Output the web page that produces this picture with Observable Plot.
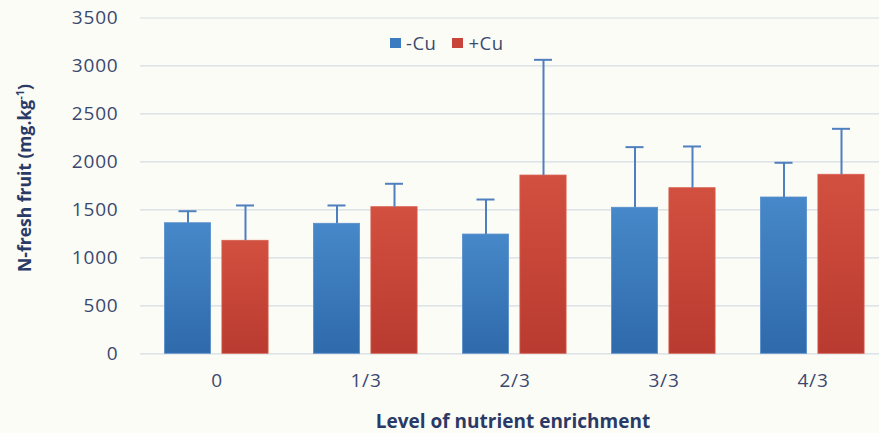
<!DOCTYPE html>
<html>
<head>
<meta charset="utf-8">
<script src="https://cdn.jsdelivr.net/npm/d3@7"></script>
<script src="https://cdn.jsdelivr.net/npm/@observablehq/plot@0.6"></script>
<style>
  html, body { margin: 0; padding: 0; background: #fcfcf6; overflow: hidden; }
  #wrap { position: relative; width: 879px; height: 433px; font-family: "Open Sans", sans-serif; }
  #ylab { position: absolute; left: 24px; top: 178px; transform: translate(-50%, -50%) rotate(-90deg);
          white-space: nowrap; font-weight: 700; font-size: 17.5px; color: #2a3a66; }
  #ylab sup { font-size: 11px; }
  #xlab { position: absolute; left: 513px; top: 421px; transform: translate(-50%, -50%);
          white-space: nowrap; font-weight: 700; font-size: 19px; color: #2a3a66; }
  #legend { position: absolute; left: 390px; top: 30px; font-size: 18.5px; color: #3b4a70; display: flex; align-items: center; letter-spacing: 0.5px; }
  #legend .sw { display: inline-block; width: 11px; height: 10px; margin-right: 5px; }
  #legend .item { display: flex; align-items: center; margin-right: 16px; }
  #chart svg g[aria-label$="tick label"] text { letter-spacing: 0.8px; }
</style>
</head>
<body>
<div id="wrap">
  <div id="chart"></div>
  <div id="ylab">N-fresh fruit (mg.kg<sup>-1</sup>)</div>
  <div id="xlab">Level of nutrient enrichment</div>
  <div id="legend"></div>
</div>
<script>
const levels = ["0", "1/3", "2/3", "3/3", "4/3"];
const series = ["-Cu", "+Cu"];
const minusCu = [1361, 1355, 1243, 1522, 1629];
const minusCuSD = [125, 191, 365, 632, 362];
const plusCu = [1178, 1528, 1858, 1726, 1866];
const plusCuSD = [368, 244, 1206, 435, 479];
const yTicks = [0, 500, 1000, 1500, 2000, 2500, 3000, 3500];
const colors = ["#3b7bc0", "#c9443a"];

const minusData = levels.map((l, i) => ({level: l, value: minusCu[i], top: minusCu[i] + minusCuSD[i]}));
const plusData = levels.map((l, i) => ({level: l, value: plusCu[i], top: plusCu[i] + plusCuSD[i]}));

const barInset = 51.4;
const capInset = 65.5;
const errColor = "#4f7fbf";

function gradientDefs() {
  const ns = "http://www.w3.org/2000/svg";
  const defs = document.createElementNS(ns, "defs");
  const specs = [["gBlue", "#4688c9", "#2f6aab"], ["gRed", "#d2503f", "#b93a30"]];
  for (const [id, c1, c2] of specs) {
    const g = document.createElementNS(ns, "linearGradient");
    g.setAttribute("id", id);
    g.setAttribute("x1", "0"); g.setAttribute("y1", "0");
    g.setAttribute("x2", "0"); g.setAttribute("y2", "1");
    [[0, c1], [1, c2]].forEach(([o, c]) => {
      const s = document.createElementNS(ns, "stop");
      s.setAttribute("offset", o);
      s.setAttribute("stop-color", c);
      g.appendChild(s);
    });
    defs.appendChild(g);
  }
  return defs;
}

const fillWith = id => (i, s, v, d, c, next) => {
  const g = next(i, s, v, d, c);
  g.querySelectorAll("rect").forEach(r => r.setAttribute("fill", `url(#${id})`));
  return g;
};

const chart = Plot.plot({
  width: 879,
  height: 433,
  marginLeft: 140,
  marginRight: 0,
  marginTop: 17.5,
  marginBottom: 79.7,
  style: {background: "transparent", fontFamily: "Open Sans, sans-serif", color: "#3a4870"},
  x: {type: "band", domain: levels, range: [142, 887.5], padding: 0},
  y: {domain: [0, 3500]},
  marks: [
    gradientDefs,
    Plot.gridY(yTicks, {stroke: "#d6dce3", strokeOpacity: 1, strokeWidth: 1.2}),
    Plot.axisY(yTicks, {tickSize: 0, tickPadding: 22, fontSize: 19, label: null, tickFormat: d => String(d), fill: "#3a4870"}),
    Plot.axisX({tickSize: 0, tickPadding: 20, fontSize: 19, label: null, fill: "#3a4870"}),
    Plot.barY(minusData, {x: "level", y: "value", fill: colors[0], dx: -29, insetLeft: barInset, insetRight: barInset, stroke: "#5a8fcc", strokeWidth: 0.8, render: fillWith("gBlue")}),
    Plot.barY(plusData, {x: "level", y: "value", fill: colors[1], dx: 28.5, insetLeft: barInset, insetRight: barInset, stroke: "#d8604f", strokeWidth: 0.8, render: fillWith("gRed")}),
    Plot.ruleX(minusData, {x: "level", y1: "value", y2: "top", dx: -29, stroke: errColor, strokeWidth: 2}),
    Plot.tickY(minusData, {x: "level", y: "top", dx: -29, insetLeft: capInset, insetRight: capInset, stroke: errColor, strokeWidth: 2}),
    Plot.ruleX(plusData, {x: "level", y1: "value", y2: "top", dx: 28.5, stroke: errColor, strokeWidth: 2}),
    Plot.tickY(plusData, {x: "level", y: "top", dx: 28.5, insetLeft: capInset, insetRight: capInset, stroke: errColor, strokeWidth: 2})
  ]
});
document.getElementById("chart").appendChild(chart);

const legend = document.getElementById("legend");
series.forEach((s, i) => {
  const item = document.createElement("span");
  item.className = "item";
  const sw = document.createElement("span");
  sw.className = "sw";
  sw.style.background = colors[i];
  item.appendChild(sw);
  item.appendChild(document.createTextNode(s));
  legend.appendChild(item);
});
</script>
</body>
</html>
